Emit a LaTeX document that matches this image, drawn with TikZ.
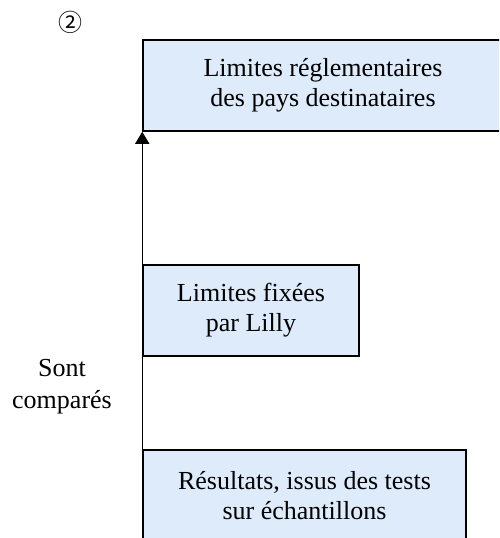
\documentclass[tikz,border=0pt]{standalone}
\usepackage{fontspec}
\setmainfont{Liberation Serif}
\newfontfamily\symfont{Noto Sans CJK SC}
\usetikzlibrary{arrows.meta}
\definecolor{boxfill}{RGB}{221,235,251}
\tikzset{
  box/.style={draw=black, line width=1.5pt, fill=boxfill, align=center, inner sep=0pt,
    font=\fontsize{26}{30}\selectfont},
  lbl/.style={align=center, inner sep=0pt, font=\fontsize{26}{32}\selectfont},
  conn/.style={line width=1.4pt, -{Triangle[width=14pt,length=12pt]}}
}
\begin{document}
\begin{tikzpicture}[x=1pt,y=-1pt]
\useasboundingbox (0,0) rectangle (499,538);
\clip (0,0) rectangle (499,538);
\node[box, minimum width=360pt, minimum height=91pt] (top) at (323,85.5) {Limites réglementaires\\des pays destinataires};
\node[box, minimum width=216pt, minimum height=91pt] (mid) at (251,310.5) {Limites fixées\\par Lilly};
\node[box, minimum width=323pt, minimum height=91pt] (bot) at (304.5,495.5) {Résultats, issus des tests\\sur échantillons};
\draw[conn] (bot.north west) -- (top.south west);
\node[lbl] (cmp) at (62,387) {Sont\\comparés};
\node[inner sep=0pt, font=\symfont\fontsize{24}{26}\selectfont] (num) at (70,22) {②};
\end{tikzpicture}
\end{document}
